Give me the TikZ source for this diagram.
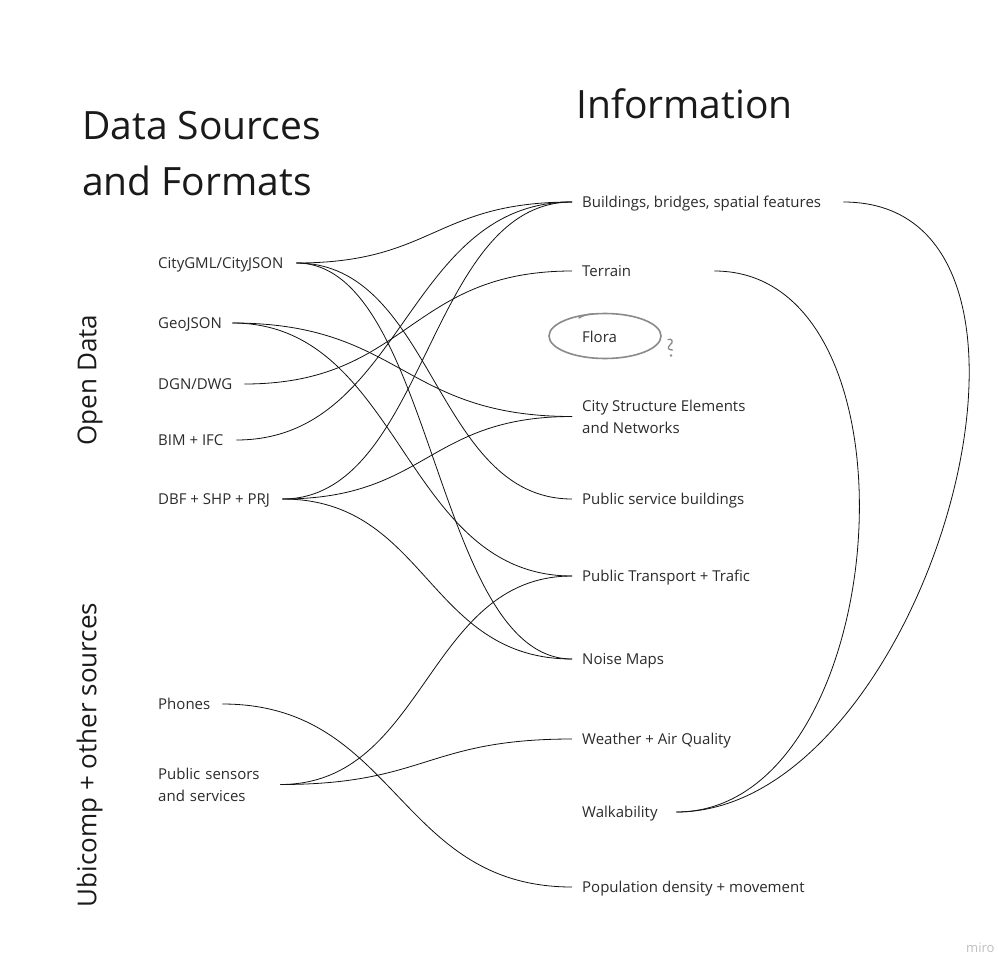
\documentclass[tikz,border=0pt]{standalone}
\usepackage{fontspec}
\setmainfont{Open Sans}
\usetikzlibrary{calc}
\definecolor{txt}{HTML}{2B2B2B}
\definecolor{ttl}{HTML}{1A1A1A}
\definecolor{lin}{HTML}{111111}
\definecolor{sketchgray}{HTML}{8A8A8A}
\newcommand\wbox[2]{\makebox[#1pt][l]{#2}}
\newcommand\linkto[2]{\draw[conn] let \p1=(#1.east), \p2=(#2.west), \n1={0.5*(\x2-\x1)} in (\p1) .. controls +(\n1,0) and +(-\n1,0) .. (\p2);}
\tikzset{
  lbl/.style={font=\fontsize{15}{22}\selectfont, text=txt, inner xsep=10pt, inner ysep=0pt, anchor=west, text height=11pt, text depth=0pt},
  lbltwo/.style={font=\fontsize{15}{22}\selectfont, text=txt, inner xsep=10pt, inner ysep=0pt, anchor=west, align=left},
  ttlst/.style={font=\fontsize{39}{56}\selectfont, text=ttl, inner sep=0pt, align=left},
  side/.style={font=\fontsize{26}{30}\selectfont, text=ttl, inner sep=0pt, rotate=90},
  conn/.style={draw=lin, line width=0.8pt},
  sketch/.style={draw=sketchgray, line width=1.6pt, line cap=round}
}
\begin{document}
\begin{tikzpicture}[x=1pt, y=-1pt]
\fill[white] (0,0) rectangle (998,977);
\useasboundingbox (0,0) rectangle (998,977);

% titles
\node[ttlst, anchor=west] (dstitle) at (82,154) {Data Sources\\and Formats};
\node[ttlst, anchor=base west] (infotitle) at (576,118) {Information};
\node[side] (opendata) at (90,380) {Open Data};
\node[side] (ubicomp) at (89.5,755) {Ubicomp + other sources};

% sources
\node[lbl] (city) at (148,263) {\wbox{128}{CityGML/CityJSON}};
\node[lbl] (geo) at (148,323) {\wbox{64}{GeoJSON}};
\node[lbl] (dgn) at (148,384) {\wbox{76}{DGN/DWG}};
\node[lbl] (bim) at (148,440) {\wbox{68}{BIM + IFC}};
\node[lbl] (dbf) at (148,499) {\wbox{114}{DBF + SHP + PRJ}};
\node[lbl] (phones) at (148,704) {\wbox{54}{Phones}};
\node[lbltwo, text width=112pt] (sensors) at (148,784.5) {Public sensors\\and services};

% information
\node[lbl] (bld) at (572,202) {\wbox{251}{Buildings, bridges, spatial features}};
\node[lbl] (ter) at (572,271) {\wbox{122}{Terrain}};
\node[lbl] (flora) at (572,337) {Flora};
\node[lbltwo] (cse) at (572,416.5) {City Structure Elements\\and Networks};
\node[lbl] (psb) at (572,499) {Public service buildings};
\node[lbl] (ptt) at (572,576) {Public Transport + Trafic};
\node[lbl] (noise) at (572,659) {Noise Maps};
\node[lbl] (wea) at (572,739) {Weather + Air Quality};
\node[lbl] (walk) at (572,812) {\wbox{84}{Walkability}};
\node[lbl] (pop) at (572,887) {Population density + movement};

% connectors
\linkto{city}{bld}
\linkto{city}{psb}
\linkto{city}{noise}
\linkto{geo}{cse}
\linkto{geo}{ptt}
\linkto{dgn}{ter}
\linkto{bim}{bld}
\linkto{dbf}{bld}
\linkto{dbf}{cse}
\linkto{dbf}{noise}
\linkto{phones}{pop}
\linkto{sensors}{ptt}
\linkto{sensors}{wea}

% loops on the right
\draw[conn] (walk.east) .. controls +(217,0) and +(217,0) .. (ter.east);
\draw[conn] (walk.east) .. controls +(250,0) and +(255,0) .. (bld.east);

% sketch marks around Flora
\draw[sketch] (605,336) ellipse [x radius=56, y radius=22.5];
\draw[sketch, line width=1.4pt] (579,318) .. controls (584,315) and (588,314) .. (593,314);
\draw[sketch, line width=1.3pt] (668,339.5) .. controls (672,338) and (674,342) .. (670,345) .. controls (667,347.5) and (668,350) .. (672.5,350);
\fill[sketchgray] (671,355.5) circle [radius=1.3];

% watermark
\node[font=\fontsize{13}{15}\selectfont, text=black!25, anchor=west, inner sep=0pt] (miro) at (966,948) {miro};
\end{tikzpicture}
\end{document}
